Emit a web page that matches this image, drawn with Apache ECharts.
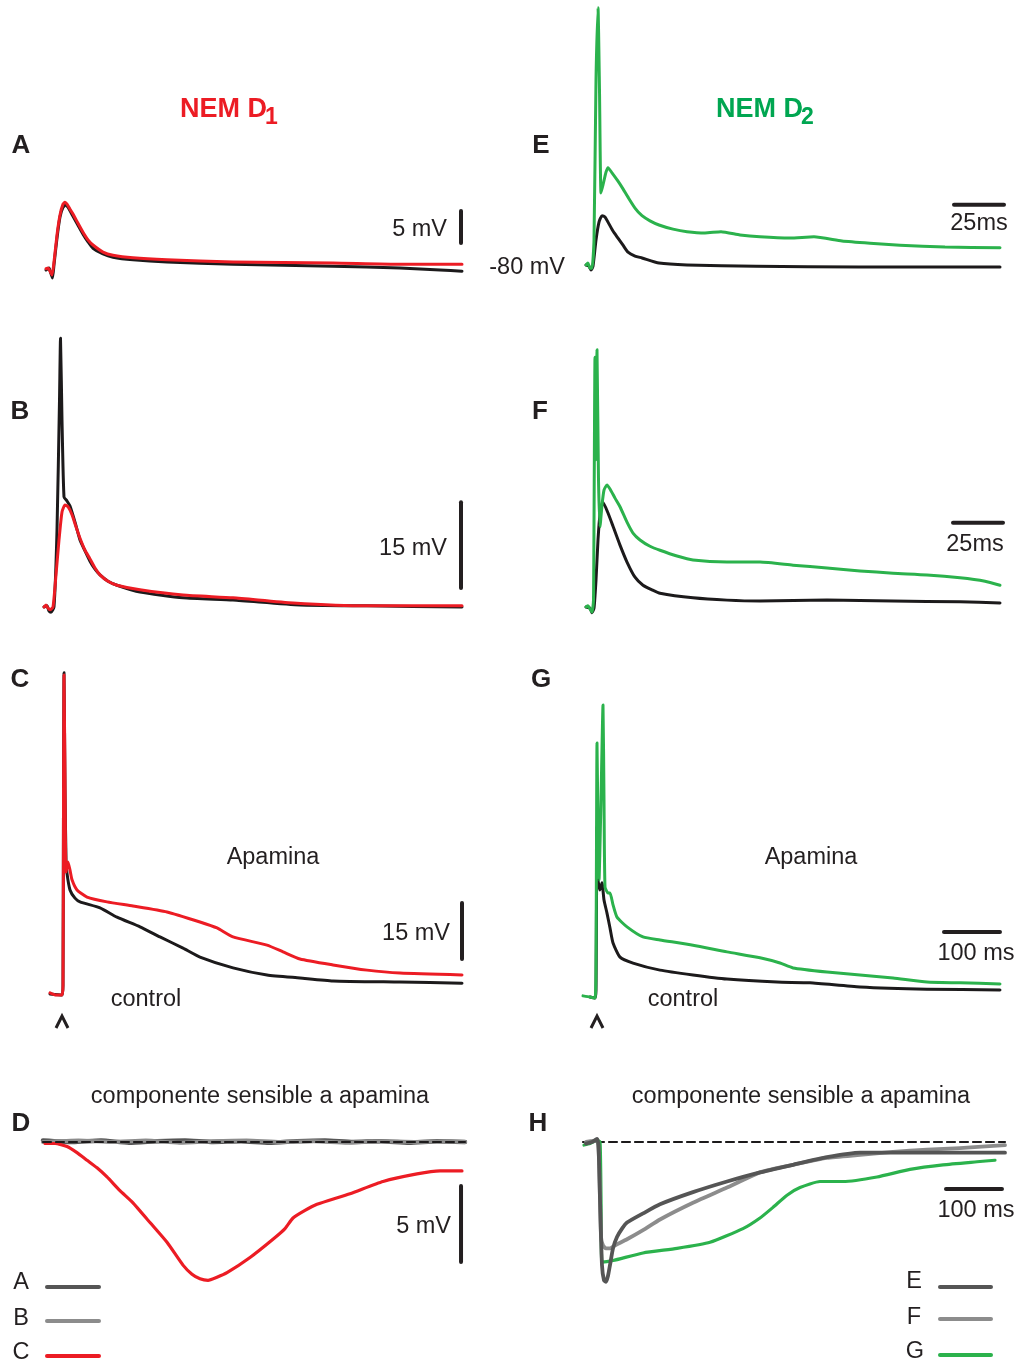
<!DOCTYPE html>
<html><head><meta charset="utf-8">
<script src="https://cdn.jsdelivr.net/npm/echarts@6/dist/echarts.min.js"></script>
<style>html,body{margin:0;padding:0;background:#fff}#c{width:1021px;height:1365px}</style>
</head><body><div id="c"></div>
<script>
// ---------------- DATA (time in ms, membrane potential in mV relative to baseline) ----------------
// Panel A (NEM D1, 25 ms scale)
const A_control = [[-3,0],[-1.5,0.3],[-0.5,-0.6],[0.25,-1.25],[1,0.8],[2.5,5.0],[4,8.3],[5.5,9.8],[7,10.2],[8,9.8],[10.5,8.4],[13,7.0],[15.5,5.6],[18,4.4],[20.5,3.4],[25.5,2.5],[30.5,2.0],[40.5,1.6],[57.5,1.25],[90.5,0.9],[140.5,0.6],[174,0.3],[194,0],[205,-0.2]];
const A_nem = [[-3,0.2],[-2,0.3],[-1,-0.2],[0,-0.8],[1,1.25],[2.5,5.5],[4,8.6],[5.5,10.3],[6.5,10.6],[7.5,10.3],[9,9.5],[10.5,8.75],[13,7.3],[15.5,5.9],[18,4.7],[20.5,3.9],[25.5,2.8],[30.5,2.3],[40.5,1.9],[57.5,1.6],[90.5,1.25],[140.5,1.1],[174,0.9],[205,0.9]];
// Panel B
const B_control = [[-3,0],[-1.5,0.2],[-0.5,-0.7],[0.5,-0.9],[2,0],[3.5,13.4],[4.75,36.1],[5.25,46.9],[6,32.6],[7,19.2],[8.5,18.5],[10,17.6],[12.5,14.8],[15,11.7],[17.5,9.8],[20,8.0],[22.5,6.6],[25,5.6],[29,4.5],[33.5,3.8],[45,2.6],[66.5,1.6],[91.5,1.2],[125,0.35],[158.5,0.2],[206,0]];
const B_nem = [[-3,0],[-2,0.35],[-1,-0.2],[0,-0.5],[1.5,0],[3,5.6],[4.5,11.7],[6,16.6],[7.5,17.8],[9,17.5],[11,16.1],[13,14.0],[15,12.0],[17.5,9.9],[20,8.4],[22.5,6.8],[25,5.6],[29,4.5],[33.5,3.8],[45,3.0],[66.5,2.1],[91.5,1.6],[121.5,0.7],[158.5,0.2],[206,0.2]];
// Panel C (100 ms scale)
const C_control = [[-23.2,0],[-1.8,-0.3],[0,2.4],[0.9,52.0],[1.8,86.1],[3.6,54.7],[5.4,35.9],[7.1,32.4],[12.5,27.9],[21.4,25.7],[30.4,24.7],[66.1,23.1],[96.4,20.6],[137.5,18.0],[173.2,15.3],[214.3,12.3],[244.6,9.9],[303.6,7.0],[364.3,5.1],[423.2,4.3],[482.1,3.5],[601.8,3.2],[712.5,2.9]];
const C_apamin = [[-23.2,0.3],[-12.5,-0.3],[-1.8,-0.3],[0,2.4],[0.9,52.0],[1.8,85.5],[3.6,57.4],[5.4,32.7],[8.9,35.4],[12.5,33.2],[16.1,30.6],[25,27.9],[42.9,26.0],[78.6,24.7],[125,23.6],[185.7,22.0],[244.6,19.3],[275,17.7],[303.6,15.3],[364.3,13.1],[392.9,11.3],[423.2,9.4],[482.1,7.8],[542.9,6.4],[601.8,5.6],[712.5,5.1]];
// Panel D (apamin-sensitive component)
const D_A = [[-3.6,0.1],[50,0],[100,0.1],[150,-0.05],[200,0.05],[250,0.1],[300,0],[350,0.05],[400,-0.05],[450,0.05],[500,0.1],[550,0],[600,0.05],[650,-0.05],[700,0.05],[750,0]];
const D_B = [[-3.6,0],[60,0.1],[120,0],[180,0.1],[240,-0.05],[300,0.05],[360,0.1],[420,0],[480,0.05],[540,-0.05],[600,0.05],[660,0],[720,0.05],[750,0]];
const D_C = [[0,-0.1],[17.9,-0.1],[39.3,-0.3],[57.1,-0.7],[75,-1.2],[92.9,-1.7],[110.7,-2.3],[133.9,-3.2],[157.1,-4.0],[187.5,-5.3],[217.9,-6.6],[246.4,-8.1],[262.5,-8.7],[276.8,-9.0],[291.1,-9.1],[307.1,-8.9],[325,-8.6],[366.1,-7.6],[407.1,-6.4],[428.6,-5.7],[442.9,-5.0],[464.3,-4.5],[485.7,-4.1],[544.6,-3.4],[603.6,-2.6],[664.3,-2.1],[705.4,-1.9],[744.6,-1.9]];
const D_zero = [[-3.6,0],[750,0]];
// Panel E (NEM D2)
const E_control = [[-2.5,0],[-1,-0.2],[0,-0.8],[1,-0.2],[2.5,3.9],[4,6.7],[5.5,7.7],[7,7.5],[8.5,6.7],[11,5.3],[13.5,4.2],[16,3.1],[18.5,2.0],[22,1.4],[25.5,1.1],[34,0.3],[48,0],[82.5,-0.2],[134,-0.3],[204.5,-0.3]];
const E_nem = [[-2.5,0],[-1.5,0.3],[-0.5,-0.5],[0.5,-0.5],[1.5,3.9],[2.5,28.9],[3.5,40.2],[4.25,27.3],[5,11.25],[6,12.5],[7.5,14.5],[8.5,15.2],[10.5,14.4],[13.5,13.1],[16,11.9],[18.5,10.6],[22,8.9],[25.5,7.7],[29.5,6.9],[34,6.25],[41,5.6],[48,5.2],[57,5.0],[65,5.2],[74.5,4.7],[84.5,4.4],[99.5,4.2],[111.5,4.4],[125.5,3.75],[139.5,3.4],[154.5,3.1],[177,2.8],[204.5,2.7]];
// Panel F
const F_control = [[-3,0],[-1,-0.2],[0,-1.0],[1,-0.2],[2,4.7],[3,11.7],[4,16.1],[5.5,18.3],[8,16.4],[10.5,14.1],[14,10.8],[17.5,7.85],[21.5,5.2],[25.5,3.8],[30,3.0],[34,2.4],[50.5,1.6],[67.5,1.2],[84,1.05],[117.5,1.2],[150.5,1.05],[184,0.9],[204,0.7]];
const F_nem = [[-3,0],[-2,0.2],[-1,-0.35],[0,-0.9],[0.75,1.2],[1.5,43.6],[2,25.7],[2.5,44.9],[3.25,22.2],[4,14.0],[5,17.8],[6,20.4],[7.5,21.3],[9,20.6],[11.5,19.0],[14,17.5],[17.5,14.8],[20.5,12.9],[24,11.7],[29,10.6],[34,9.9],[42.5,8.9],[50.5,8.2],[67.5,7.85],[84,7.85],[100.5,7.3],[117.5,6.8],[134,6.3],[150.5,5.9],[167.5,5.6],[184,5.1],[196.5,4.5],[204,3.8]];
// Panel G
const G_control = [[-10.7,0],[-1.8,-0.3],[0,1.9],[1.8,45.6],[3.6,31.4],[7.1,28.7],[10.7,30.6],[14.3,26.0],[19.6,22.5],[25,18.5],[30.4,14.5],[42.9,10.7],[66.1,9.1],[114.3,7.2],[173.2,5.9],[233.9,4.8],[323.2,4.0],[382.1,3.8],[471.4,2.7],[591.1,2.1],[721.4,1.9]];
const G_apamin = [[-23.2,0.3],[-10.7,0],[-1.8,-0.3],[0,9.9],[1.8,68.1],[3.6,44.8],[5.4,31.4],[8.9,52.8],[12.5,78.3],[14.3,52.8],[16.1,29.5],[21.4,27.9],[25,27.9],[30.4,24.7],[37.5,21.4],[55.4,18.8],[83.9,16.1],[114.3,15.3],[173.2,13.9],[233.9,12.1],[292.9,10.5],[328.6,9.1],[351.8,7.8],[412.5,6.7],[471.4,5.9],[530.4,5.1],[591.1,4.0],[650,3.8],[721.4,3.5]];
// Panel H (apamin-sensitive component, D2)
const H_E = [[-21.4,-0.1],[-10.7,0],[-1.8,0.2],[0.9,-0.2],[3.6,-3.8],[7.1,-8.1],[10.7,-9.1],[14.3,-9.2],[17.9,-8.8],[21.4,-8.1],[26.8,-7.0],[33.9,-6.25],[42.9,-5.7],[51.8,-5.3],[80.4,-4.7],[110.7,-4.1],[169.6,-3.3],[230.4,-2.6],[289.3,-2.0],[348.2,-1.5],[408.9,-1.0],[467.9,-0.7],[526.8,-0.7],[587.5,-0.7],[646.4,-0.7],[726.8,-0.7]];
const H_F = [[-21.4,0],[-1.8,0.1],[1.8,-1.2],[5.4,-6.25],[8.9,-6.8],[14.3,-7.0],[21.4,-7.0],[30.4,-6.8],[51.8,-6.4],[80.4,-5.8],[110.7,-5.1],[169.6,-4.0],[230.4,-3.0],[289.3,-2.0],[348.2,-1.5],[408.9,-1.05],[467.9,-0.85],[526.8,-0.65],[587.5,-0.5],[646.4,-0.4],[726.8,-0.2]];
const H_G = [[-25,-0.2],[-14.3,-0.1],[-1.8,0.1],[3.6,0],[5.4,-3.8],[7.1,-7.9],[26.8,-7.8],[80.4,-7.3],[141.1,-7.0],[200,-6.6],[258.9,-5.7],[289.3,-5.0],[312.5,-4.3],[337.5,-3.5],[360.7,-3.0],[396.4,-2.6],[437.5,-2.6],[498.2,-2.3],[557.1,-1.8],[616.1,-1.5],[676.8,-1.3],[708.9,-1.2]];
const H_zero = [[-26.8,0],[726.8,0]];
// Scale bars: value lengths
const barLen = {A:5, B:15, C:15, D:5, E:25, F:25, G:100, H:100};
const barText = {A:'5 mV', B:'15 mV', C:'15 mV', D:'5 mV', E:'25ms', F:'25ms', G:'100 ms', H:'100 ms'};

// ---------------- LAYOUT ----------------
const L = {
  A:{ox:52, oy:270, sx:2, sy:6.4, x:[-5,210], y:[-3,12]},
  B:{ox:50, oy:607, sx:2, sy:5.73, x:[-5,210], y:[-3,50]},
  C:{ox:63, oy:994, sx:0.56, sy:3.73, x:[-30,730], y:[-12,90]},
  D:{ox:45, oy:1142, sx:0.56, sy:15.2, x:[-10,760], y:[-10,1]},
  E:{ox:591, oy:265, sx:2, sy:6.4, x:[-5,210], y:[-3,41]},
  F:{ox:592, oy:607, sx:2, sy:5.73, x:[-5,210], y:[-3,50]},
  G:{ox:596, oy:997, sx:0.56, sy:3.73, x:[-30,730], y:[-12,90]},
  H:{ox:598, oy:1142, sx:0.56, sy:15.2, x:[-30,730], y:[-10,1]}
};
// scale-bar anchor (start point, axis units) and direction
const barPos = {
  A:{at:[204.5,4.2], dir:'v'}, B:{at:[205.5,3.3], dir:'v'}, C:{at:[712.5,9.4], dir:'v'}, D:{at:[742.9,-7.9], dir:'v'},
  E:{at:[181.5,9.4], dir:'h'}, F:{at:[180.5,14.7], dir:'h'}, G:{at:[621.4,17.4], dir:'h'}, H:{at:[621.4,-3.1], dir:'h'}
};
const order = ['A','B','C','D','E','F','G','H'];
const idx = k => order.indexOf(k);

const BLACK = '#1c1a1b', RED = '#ec1c24', GREEN = '#2bb24c', DGRAY = '#555555', LGRAY = '#8c8c8c', TXT = '#231f20';
const FONT = '"Liberation Sans", Arial, sans-serif';

const grid = [], xAxis = [], yAxis = [];
order.forEach((k,i) => {
  const l = L[k];
  grid.push({left: l.ox + l.x[0]*l.sx, top: l.oy - l.y[1]*l.sy, width: (l.x[1]-l.x[0])*l.sx, height: (l.y[1]-l.y[0])*l.sy, containLabel:false});
  xAxis.push({type:'value', gridIndex:i, min:l.x[0], max:l.x[1], show:false});
  yAxis.push({type:'value', gridIndex:i, min:l.y[0], max:l.y[1], show:false});
});

const series = [];
function ln(k, data, color, width, z, dash) {
  series.push({type:'line', xAxisIndex:idx(k), yAxisIndex:idx(k), data, showSymbol:false, symbol:'none', clip:false, z: z||2,
    smooth: dash ? false : 0.18,
    lineStyle:{color, width, type: dash ? [8,5] : 'solid', cap:'round', join:'round'}, silent:true});
}
ln('A', A_control, BLACK, 3, 2); ln('A', A_nem, RED, 3, 3);
ln('B', B_control, BLACK, 3, 2); ln('B', B_nem, RED, 3, 3);
ln('C', C_control, BLACK, 3, 2); ln('C', C_apamin, RED, 3, 3);
ln('D', D_A, DGRAY, 4.5, 2); ln('D', D_B, LGRAY, 4, 2); ln('D', D_zero, BLACK, 2.2, 4, true); ln('D', D_C, RED, 3.2, 3);
ln('E', E_control, BLACK, 3, 2); ln('E', E_nem, GREEN, 3, 3);
ln('F', F_control, BLACK, 3, 2); ln('F', F_nem, GREEN, 3, 3);
ln('G', G_control, BLACK, 3, 2); ln('G', G_apamin, GREEN, 3, 3);
ln('H', H_zero, BLACK, 2.2, 1, true); ln('H', H_G, GREEN, 3.2, 2); ln('H', H_F, LGRAY, 3.8, 3); ln('H', H_E, DGRAY, 3.8, 4);
// scale bars
order.forEach(k => {
  const p = barPos[k], len = barLen[k];
  const end = p.dir === 'v' ? [p.at[0], p.at[1] + len] : [p.at[0] + len, p.at[1]];
  series.push({type:'line', xAxisIndex:idx(k), yAxisIndex:idx(k), data:[p.at, end], showSymbol:false, symbol:'none', clip:false, z:5,
    lineStyle:{color:TXT, width:4, cap:'round'}, silent:true});
});

function txt(x, y, s, o) {
  o = o || {};
  return {type:'text', x, y, silent:true, z:10, style:{text:s, fill:o.fill||TXT,
    font:(o.bold?'bold ':'') + (o.size||23.5) + 'px ' + FONT,
    align:o.align||'center', verticalAlign:'middle', textAlign:o.align||'center', textVerticalAlign:'middle'}};
}
function hline(x1, x2, y, color) {
  return {type:'line', silent:true, z:10, shape:{x1, y1:y, x2, y2:y}, style:{stroke:color, lineWidth:4, lineCap:'round'}};
}
function chevron(x, y) {
  return {type:'polyline', silent:true, z:10, shape:{points:[[x-6,y+12],[x,y],[x+6,y+12]]}, style:{stroke:TXT, lineWidth:3, fill:null}};
}
const graphic = [
  txt(180, 110, 'NEM D', {bold:true, size:27, fill:RED, align:'left'}),
  txt(265, 118, '1', {bold:true, size:23, fill:RED, align:'left'}),
  txt(716, 110, 'NEM D', {bold:true, size:27, fill:'#00a651', align:'left'}),
  txt(801, 118, '2', {bold:true, size:23, fill:'#00a651', align:'left'}),
  txt(21, 146, 'A', {bold:true, size:26}), txt(20, 412, 'B', {bold:true, size:26}),
  txt(20, 680, 'C', {bold:true, size:26}), txt(21, 1124, 'D', {bold:true, size:26}),
  txt(541, 146, 'E', {bold:true, size:26}), txt(540, 412, 'F', {bold:true, size:26}),
  txt(541, 680, 'G', {bold:true, size:26}), txt(538, 1124, 'H', {bold:true, size:26}),
  txt(565, 268, '-80 mV', {align:'right'}),
  txt(447, 230, barText.A, {align:'right'}),
  txt(447, 549, barText.B, {align:'right'}),
  txt(450, 934, barText.C, {align:'right'}),
  txt(451, 1227, barText.D, {align:'right'}),
  txt(979, 224, barText.E), txt(975, 545, barText.F),
  txt(976, 954, barText.G), txt(976, 1211, barText.H),
  txt(273, 858, 'Apamina'), txt(811, 858, 'Apamina'),
  txt(146, 1000, 'control'), txt(683, 1000, 'control'),
  txt(260, 1097, 'componente sensible a apamina'), txt(801, 1097, 'componente sensible a apamina'),
  txt(21, 1283, 'A'), txt(21, 1319, 'B'), txt(21, 1353, 'C'),
  txt(914, 1282, 'E'), txt(914, 1318, 'F'), txt(915, 1352, 'G'),
  hline(47, 99, 1287, DGRAY), hline(47, 99, 1321, LGRAY), hline(47, 99, 1356, RED),
  hline(940, 991, 1287, DGRAY), hline(940, 991, 1319, LGRAY), hline(940, 991, 1355, GREEN),
  chevron(62, 1016), chevron(597, 1016)
];

const chart = echarts.init(document.getElementById('c'));
chart.setOption({animation:false, backgroundColor:'#fff', grid, xAxis, yAxis, series, graphic});
</script></body></html>
